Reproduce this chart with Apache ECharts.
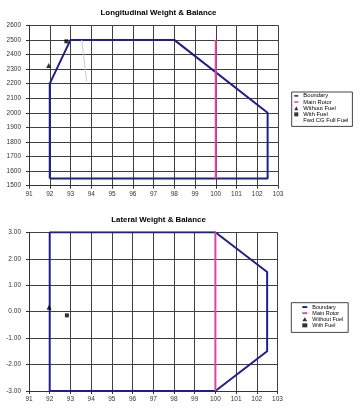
<!DOCTYPE html>
<html>
<head>
<meta charset="utf-8">
<script src="https://cdn.jsdelivr.net/npm/echarts@6/dist/echarts.min.js"></script>
<style>
html,body{margin:0;padding:0;background:#fff;}
#chart{width:360px;height:408px;}
</style>
</head>
<body>
<div id="chart"></div>
<script>
// ---- data ----
var longBoundary = [[92,1550],[92,2200],[93,2500],[98,2500],[102.5,2000],[102.5,1550],[92,1550]];
var longMainRotor = [[100,1550],[100,2500]];
var longWithoutFuel = [[91.95,2325]];
var longWithFuel = [[92.8,2490]];
var longFwdCG = [[93.54,2500],[93.78,2215]];

var latBoundary = [[92,-3],[92,3],[100,3],[102.5,1.5],[102.5,-1.5],[100,-3],[92,-3]];
var latMainRotor = [[100,-3],[100,3]];
var latWithoutFuel = [[91.97,0.17]];
var latWithFuel = [[92.83,-0.14]];

var topTitle = 'Longitudinal Weight & Balance';
var bottomTitle = 'Lateral Weight & Balance';
var topLegend = ['Boundary','Main Rotor','Without Fuel','With Fuel','Fwd CG Full Fuel'];
var bottomLegend = ['Boundary','Main Rotor','Without Fuel','With Fuel'];

var FONT = 'Liberation Sans, Arial, Helvetica, sans-serif';
var NAVY = '#1f1f8c';
var PINK = '#e0449c';
var FWD = '#c8c8de';
var GRIDC = '#404040';
var LINE_ICON = 'path://M0,0H8V3H0Z';
var THIN_ICON = 'path://M0,0H10V1H0Z';
var iconMap = {
  'Boundary':{icon:LINE_ICON, itemStyle:{color:NAVY}},
  'Main Rotor':{icon:LINE_ICON, itemStyle:{color:PINK}},
  'Without Fuel':{icon:'triangle', itemStyle:{color:'#000'}},
  'With Fuel':{icon:'rect', itemStyle:{color:'#000'}},
  'Fwd CG Full Fuel':{icon:THIN_ICON, itemStyle:{color:FWD}}
};
function legendData(names){
  return names.map(function(n){
    var m = iconMap[n];
    return {name:n, icon:m.icon, itemStyle:m.itemStyle};
  });
}

function xAxis(gi){
  return {
    type:'value', gridIndex:gi, min:91, max:103, interval:1,
    axisLine:{show:true, onZero:false, lineStyle:{color:'#333', width:1}},
    axisTick:{show:true, inside:false, length:3, lineStyle:{color:'#333'}},
    axisLabel:{fontSize:6.5, color:'#333', fontFamily:FONT, margin:5},
    splitLine:{show:true, lineStyle:{color:GRIDC, width:1}}
  };
}
function yAxis(gi, min, max, interval, fmt){
  return {
    type:'value', gridIndex:gi, min:min, max:max, interval:interval,
    axisLine:{show:true, onZero:false, lineStyle:{color:'#333', width:1}},
    axisTick:{show:true, inside:false, length:3, lineStyle:{color:'#333'}},
    axisLabel:{fontSize:6.5, color:'#333', fontFamily:FONT, margin:8, formatter:fmt},
    splitLine:{show:true, lineStyle:{color:GRIDC, width:1}}
  };
}
function lineSeries(name, data, gi, color, width){
  return {name:name, type:'line', xAxisIndex:gi, yAxisIndex:gi, data:data,
    symbol:'none', showSymbol:false, silent:true, animation:false,
    lineStyle:{color:color, width:width}, itemStyle:{color:color}, z:3};
}
function scatterSeries(name, data, gi, symbol, size){
  return {name:name, type:'scatter', xAxisIndex:gi, yAxisIndex:gi, data:data,
    symbol:symbol, symbolSize:size, silent:true, animation:false,
    itemStyle:{color:'#000'}, z:4};
}

var chart = echarts.init(document.getElementById('chart'), null, {renderer:'canvas'});
chart.setOption({
  animation:false,
  backgroundColor:'#fff',
  title:[
    {text:topTitle, left:153.5, top:4, textAlign:'center',
     textStyle:{fontSize:7.9, fontWeight:'bold', color:'#000', fontFamily:FONT}},
    {text:bottomTitle, left:153.5, top:211, textAlign:'center',
     textStyle:{fontSize:7.9, fontWeight:'bold', color:'#000', fontFamily:FONT}}
  ],
  grid:[
    {left:29, top:25.3, width:249, height:160.4, containLabel:false},
    {left:29, top:232.3, width:248.5, height:158.7, containLabel:false}
  ],
  xAxis:[xAxis(0), xAxis(1)],
  yAxis:[
    yAxis(0, 1500, 2600, 100, function(v){return String(v);}),
    yAxis(1, -3, 3, 1, function(v){return v.toFixed(2);})
  ],
  legend:[
    {data:legendData(topLegend), orient:'vertical', left:291.7, top:92,
     padding:[0.8,4,2.8,2.6], itemGap:0, itemWidth:4, itemHeight:4,
     borderColor:'#444', borderWidth:1, backgroundColor:'#fff',
     selectedMode:false,
     textStyle:{fontSize:5.8, lineHeight:6.16, color:'#000', fontFamily:FONT}},
    {data:legendData(bottomLegend), orient:'vertical', left:291.3, top:302.7,
     padding:[1.3,5,4,11], itemGap:0, itemWidth:5, itemHeight:4,
     borderColor:'#444', borderWidth:1, backgroundColor:'#fff',
     selectedMode:false,
     textStyle:{fontSize:5.5, lineHeight:6.1, color:'#000', fontFamily:FONT}}
  ],
  series:[
    lineSeries('Boundary', longBoundary, 0, NAVY, 2),
    lineSeries('Main Rotor', longMainRotor, 0, PINK, 2),
    scatterSeries('Without Fuel', longWithoutFuel, 0, 'triangle', 5),
    scatterSeries('With Fuel', longWithFuel, 0, 'rect', 4),
    lineSeries('Fwd CG Full Fuel', longFwdCG, 0, FWD, 1),
    lineSeries('Boundary', latBoundary, 1, NAVY, 2),
    lineSeries('Main Rotor', latMainRotor, 1, PINK, 2),
    scatterSeries('Without Fuel', latWithoutFuel, 1, 'triangle', 5),
    scatterSeries('With Fuel', latWithFuel, 1, 'rect', 4)
  ]
});
</script>
</body>
</html>
